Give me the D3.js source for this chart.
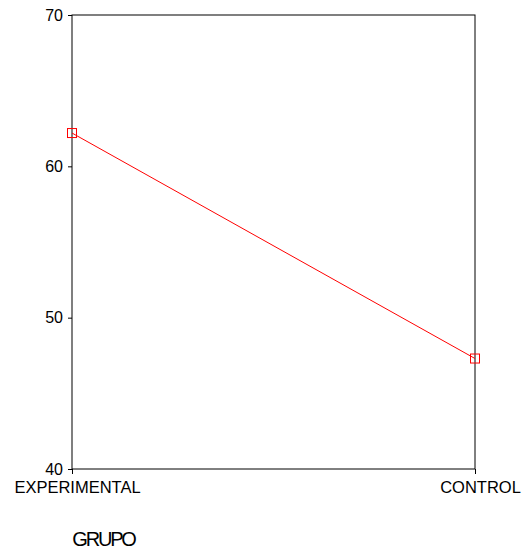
<!DOCTYPE html>
<html>
<head>
<meta charset="utf-8">
<script src="https://cdn.jsdelivr.net/npm/d3@7"></script>
<style>
  body { margin: 0; background: #fff; }
  svg text { font-family: "Liberation Sans", Arial, sans-serif; }
</style>
</head>
<body>
<script>
const width = 527;
const height = 549;
const margin = {top: 15, right: 52, bottom: 80, left: 72};

const groups = ["EXPERIMENTAL", "CONTROL"];
const means = [62.2, 47.3];
const yTicks = [40, 50, 60, 70];

const data = groups.map((g, i) => ({group: g, value: means[i]}));

const svg = d3.select('body')
              .append('svg')
              .attr('width', width)
              .attr('height', height);

const xScale = d3.scalePoint()
                 .domain(groups)
                 .range([margin.left, width - margin.right]);

const yScale = d3.scaleLinear()
                 .domain([40, 70])
                 .range([height - margin.bottom, margin.top]);

// frame
svg.append('rect')
   .attr('x', margin.left)
   .attr('y', margin.top)
   .attr('width', width - margin.right - margin.left)
   .attr('height', height - margin.bottom - margin.top)
   .attr('fill', 'none')
   .attr('stroke', '#000')
   .attr('stroke-width', 1);

const yAxis = d3.axisLeft(yScale)
                .tickValues(yTicks)
                .tickSize(4)
                .tickPadding(5)
                .tickFormat(d3.format('d'));
svg.append('g')
   .attr('transform', `translate(${margin.left}, 0)`)
   .call(yAxis)
   .call(g => g.select('.domain').remove())
   .call(g => g.selectAll('text')
               .attr('font-size', 16)
               .attr('font-family', '"Liberation Sans", Arial, sans-serif')
               .attr('fill', '#000'));

const xAxis = d3.axisBottom(xScale)
                .tickSize(5)
                .tickPadding(7);
svg.append('g')
   .attr('transform', `translate(0, ${height - margin.bottom})`)
   .call(xAxis)
   .call(g => g.select('.domain').remove())
   .call(g => g.selectAll('text')
               .attr('font-size', 16.5)
               .attr('dx', 5)
               .attr('font-family', '"Liberation Sans", Arial, sans-serif')
               .attr('fill', '#000'));

// axis title
svg.append('text')
   .attr('x', 103.5)
   .attr('y', 546)
   .attr('text-anchor', 'middle')
   .attr('font-size', 20)
   .attr('letter-spacing', -2.2)
   .text('GRUPO');

const line = d3.line()
               .x(d => xScale(d.group))
               .y(d => yScale(d.value));

svg.append('path')
   .datum(data)
   .attr('d', line)
   .attr('fill', 'none')
   .attr('stroke', '#ff0000')
   .attr('stroke-width', 1);

svg.selectAll('rect.pt')
   .data(data)
   .enter()
   .append('rect')
   .attr('class', 'pt')
   .attr('x', d => xScale(d.group) - 4.5)
   .attr('y', d => yScale(d.value) - 4.5)
   .attr('width', 9)
   .attr('height', 9)
   .attr('fill', 'none')
   .attr('stroke', '#ff0000')
   .attr('stroke-width', 1);
</script>
</body>
</html>
